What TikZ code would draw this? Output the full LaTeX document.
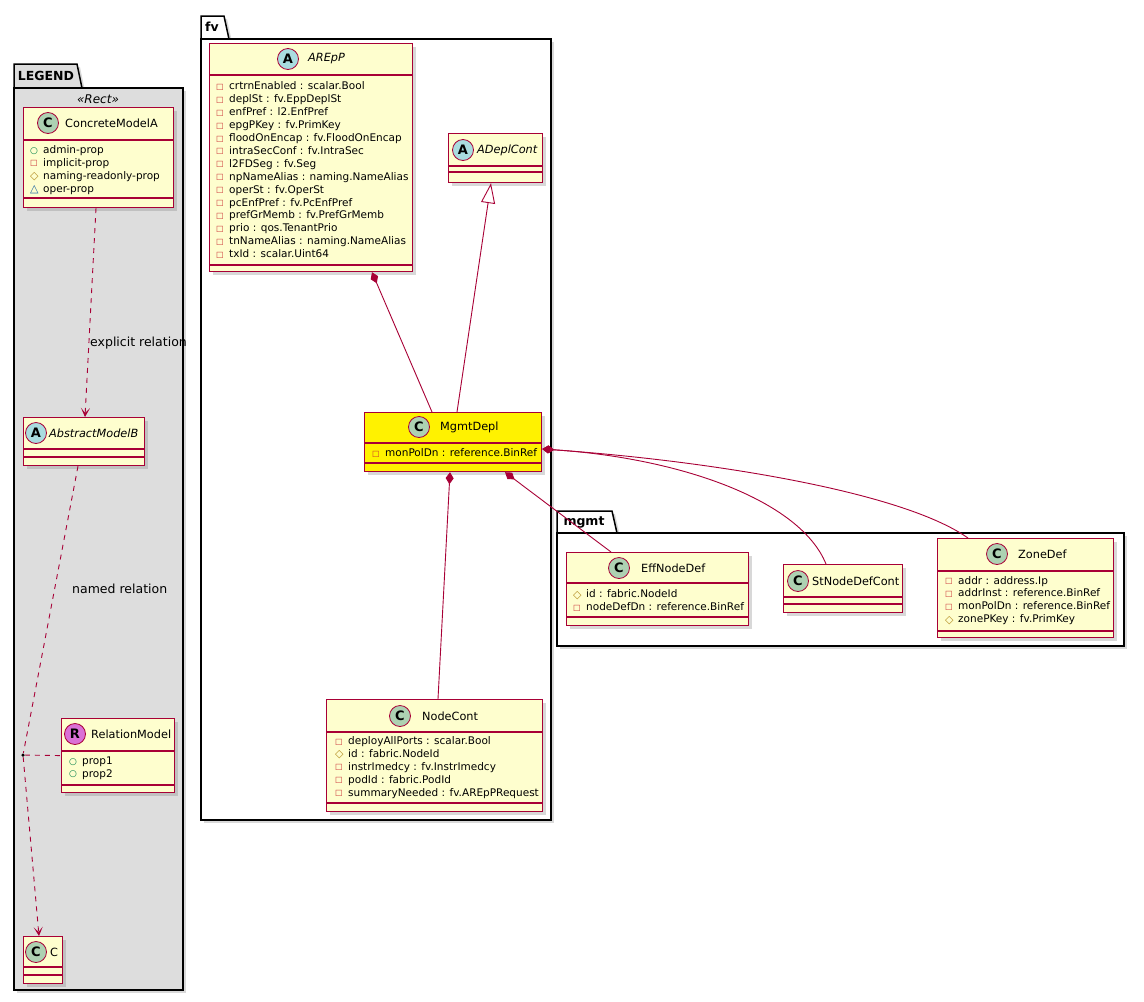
\documentclass[tikz,border=0pt]{standalone}
\usepackage{fontspec}
\setmainfont{DejaVu Sans}[ItalicFont={DejaVu Sans Oblique},BoldFont={DejaVu Sans Bold}]
\usetikzlibrary{arrows.meta,shadows,calc}

\definecolor{umlred}{HTML}{A80036}
\definecolor{umlfill}{HTML}{FEFECE}
\definecolor{cgreen}{HTML}{ADD1B2}
\definecolor{ablue}{HTML}{A9DCDF}
\definecolor{rpink}{HTML}{DA70D6}
\definecolor{legendgray}{HTML}{DDDDDD}
\definecolor{vpubc}{HTML}{038048}
\definecolor{vpric}{HTML}{C82930}
\definecolor{vproc}{HTML}{B38D22}
\definecolor{vpkgc}{HTML}{1963A0}

\newcommand{\vpub}{\makebox[13pt][l]{\raisebox{0.2pt}{\textcolor{vpubc}{\fontsize{9}{9}\selectfont ○}}}}
\newcommand{\vpri}{\makebox[13pt][l]{\raisebox{0.5pt}{\textcolor{vpric}{\fontsize{8}{8}\selectfont □}}}}
\newcommand{\vpro}{\makebox[13pt][l]{\raisebox{-0.3pt}{\textcolor{vproc}{\fontsize{11}{11}\selectfont ◇}}}}
\newcommand{\vpkg}{\makebox[13pt][l]{\raisebox{-0.3pt}{\textcolor{vpkgc}{\fontsize{11}{11}\selectfont △}}}}

\begin{document}
\begin{tikzpicture}[x=1pt,y=-1pt,
    cls/.style={draw=umlred, fill=umlfill, line width=1.2pt, inner sep=0, anchor=north west,
      drop shadow={shadow xshift=3pt, shadow yshift=-3pt, opacity=0.3}},
    clsline/.style={draw=umlred, line width=1.2pt},
    icon/.style={circle, draw=umlred, line width=0.8pt, minimum size=21pt, inner sep=0,
      font=\bfseries\fontsize{13}{13}\selectfont},
    clsname/.style={anchor=west, inner sep=0, font=\fontsize{11.3}{13}\selectfont},
    attrs/.style={anchor=west, inner sep=0, align=left, font=\fontsize{10.5}{12.9}\selectfont},
    pkg/.style={draw=black, line width=1.5pt,
      drop shadow={shadow xshift=3pt, shadow yshift=-3pt, opacity=0.3}},
    pkgname/.style={inner sep=0, font=\bfseries\fontsize{12.5}{14}\selectfont},
    lbl/.style={anchor=west, inner sep=0, font=\fontsize{12.5}{14}\selectfont},
    rel/.style={draw=umlred, line width=0.9pt},
    comp/.style={rel, {Diamond[length=12pt,width=8pt]}-},
    gen/.style={rel, -{Triangle[length=20pt,width=14pt,fill=white]}},
    deplink/.style={rel, dash pattern=on 5pt off 5pt},
    dep/.style={deplink, -{Stealth[length=9pt,width=9pt,inset=5pt]}}]
\useasboundingbox (0,0) rectangle (1144,1002);

% packages
\draw[pkg, fill=legendgray] (14,88) |- (77,64) -- (82,88);
\draw[pkg, fill=legendgray] (14,88) rectangle (183,990);
\node[pkgname] (legendname) at (46,76) {LEGEND};
\node[inner sep=0, font=\itshape\fontsize{12}{13}\selectfont] (legendst) at (98,99) {«Rect»};

\draw[pkg, fill=white] (201,39) |- (224,16) -- (229,39);
\draw[pkg, fill=white] (201,39) rectangle (551,820);
\node[pkgname] (fvname) at (212,27) {fv};

\draw[pkg, fill=white] (557,533) |- (612,511) -- (617,533);
\draw[pkg, fill=white] (557,533) rectangle (1124,646);
\node[pkgname] (mgmtname) at (584,522) {mgmt};

% legend classes
\node[cls, minimum width=150, minimum height=100] (cma) at (23,107) {};
\draw[clsline] (23,140) -- (173,140);
\draw[clsline] (23,198) -- (173,198);
\node[icon, fill=cgreen] (cmaicon) at (48,123) {C};
\node[clsname] (cmaname) at (65,123) {ConcreteModelA};
\node[attrs] (cmaattr) at (30,170) {\vpub admin-prop\\ \vpri implicit-prop\\ \vpro naming-readonly-prop\\ \vpkg oper-prop};

\node[cls, minimum width=121, minimum height=48] (amb) at (23,417) {};
\draw[clsline] (23,449) -- (144,449);
\draw[clsline] (23,457) -- (144,457);
\node[icon, fill=ablue] (ambicon) at (36,433) {A};
\node[clsname, font=\itshape\fontsize{11.3}{13}\selectfont] (ambname) at (49,433) {AbstractModelB};

\node[cls, minimum width=113, minimum height=74] (relm) at (61,718) {};
\draw[clsline] (61,751) -- (174,751);
\draw[clsline] (61,785) -- (174,785);
\node[icon, fill=rpink] (relmicon) at (75,734) {R};
\node[clsname] (relmname) at (91,734) {RelationModel};
\node[attrs] (relmattr) at (69,768) {\vpub prop1\\ \vpub prop2};

\node[cls, minimum width=39, minimum height=47] (cnode) at (23,936) {};
\draw[clsline] (23,967) -- (62,967);
\draw[clsline] (23,975) -- (62,975);
\node[icon, fill=cgreen] (cicon) at (36,952) {C};
\node[clsname] (cname) at (50,952) {C};

\node[circle, fill=black, inner sep=0, minimum size=3.5pt] (reldot) at (23,755) {};

% fv classes
\node[cls, minimum width=203, minimum height=228] (arepp) at (209,43) {};
\draw[clsline] (209,75) -- (412,75);
\draw[clsline] (209,265) -- (412,265);
\node[icon, fill=ablue] (areppicon) at (288,59) {A};
\node[clsname, font=\itshape\fontsize{11.3}{13}\selectfont] (areppname) at (308,59) {AREpP};
\node[attrs] (areppattr) at (216,170) {\vpri crtrnEnabled : scalar.Bool\\ \vpri deplSt : fv.EppDeplSt\\
  \vpri enfPref : l2.EnfPref\\ \vpri epgPKey : fv.PrimKey\\ \vpri floodOnEncap : fv.FloodOnEncap\\
  \vpri intraSecConf : fv.IntraSec\\ \vpri l2FDSeg : fv.Seg\\ \vpri npNameAlias : naming.NameAlias\\
  \vpri operSt : fv.OperSt\\ \vpri pcEnfPref : fv.PcEnfPref\\ \vpri prefGrMemb : fv.PrefGrMemb\\
  \vpri prio : qos.TenantPrio\\ \vpri tnNameAlias : naming.NameAlias\\ \vpri txId : scalar.Uint64};

\node[cls, minimum width=94, minimum height=49] (adc) at (448,133) {};
\draw[clsline] (448,166) -- (542,166);
\draw[clsline] (448,172) -- (542,172);
\node[icon, fill=ablue] (adcicon) at (463,150) {A};
\node[clsname, font=\itshape\fontsize{11.3}{13}\selectfont] (adcname) at (477,150) {ADeplCont};

\node[cls, fill=yellow, minimum width=177, minimum height=59] (mgmtdepl) at (364,412) {};
\draw[clsline] (364,443) -- (541,443);
\draw[clsline] (364,463) -- (541,463);
\node[icon, fill=cgreen] (mgmtdeplicon) at (419,427) {C};
\node[clsname] (mgmtdeplname) at (440,427) {MgmtDepl};
\node[attrs] (mgmtdeplattr) at (372,453) {\vpri monPolDn : reference.BinRef};

\node[cls, minimum width=216, minimum height=112] (nodecont) at (326,699) {};
\draw[clsline] (326,732) -- (542,732);
\draw[clsline] (326,803) -- (542,803);
\node[icon, fill=cgreen] (nodeconticon) at (400,716) {C};
\node[clsname] (nodecontname) at (422,716) {NodeCont};
\node[attrs] (nodecontattr) at (335,767.5) {\vpri deployAllPorts : scalar.Bool\\ \vpro id : fabric.NodeId\\
  \vpri instrImedcy : fv.InstrImedcy\\ \vpri podId : fabric.PodId\\ \vpri summaryNeeded : fv.AREpPRequest};

% mgmt classes
\node[cls, minimum width=182, minimum height=73] (effnd) at (566,552) {};
\draw[clsline] (566,583) -- (748,583);
\draw[clsline] (566,617) -- (748,617);
\node[icon, fill=cgreen] (effndicon) at (619,568) {C};
\node[clsname] (effndname) at (641,568) {EffNodeDef};
\node[attrs] (effndattr) at (573,600.5) {\vpro id : fabric.NodeId\\ \vpri nodeDefDn : reference.BinRef};

\node[cls, minimum width=119, minimum height=48] (stndc) at (783,564) {};
\draw[clsline] (783,597) -- (902,597);
\draw[clsline] (783,604) -- (902,604);
\node[icon, fill=cgreen] (stndcicon) at (798,581) {C};
\node[clsname] (stndcname) at (812,581) {StNodeDefCont};

\node[cls, minimum width=176, minimum height=99] (zonedef) at (937,538) {};
\draw[clsline] (937,571) -- (1113,571);
\draw[clsline] (937,631) -- (1113,631);
\node[icon, fill=cgreen] (zonedeficon) at (997,554) {C};
\node[clsname] (zonedefname) at (1018,554) {ZoneDef};
\node[attrs] (zonedefattr) at (945,600.5) {\vpri addr : address.Ip\\ \vpri addrInst : reference.BinRef\\
  \vpri monPolDn : reference.BinRef\\ \vpro zonePKey : fv.PrimKey};

% legend relations
\draw[dep] ($(cma.south west)+(73,0)$) -- ($(amb.north west)+(62,0)$);
\node[lbl] (explicitlbl) at (90,343) {explicit relation};
\draw[deplink] ($(amb.south west)+(55,0)$) -- (reldot);
\draw[dep] (reldot) -- ($(cnode.north west)+(16,0)$);
\draw[deplink] (reldot) -- (relm.west);
\node[lbl] (namedlbl) at (72,589) {named relation};

% fv relations
\draw[comp] ($(arepp.south west)+(163,0)$) -- ($(mgmtdepl.north west)+(68,0)$);
\draw[gen] ($(mgmtdepl.north west)+(93,0)$) -- ($(adc.south west)+(43,0)$);
\draw[comp] ($(mgmtdepl.south west)+(86,0)$) -- ($(nodecont.north west)+(112,0)$);
\draw[comp] ($(mgmtdepl.south west)+(141,0)$) -- ($(effnd.north west)+(45,0)$);
\draw[comp] ($(mgmtdepl.north east)+(0,37)$) .. controls (680,458) and (800,500) .. ($(stndc.north west)+(43,0)$);
\draw[comp] ($(mgmtdepl.north east)+(0,37)$) .. controls (700,460) and (900,490) .. ($(zonedef.north west)+(31,0)$);
\end{tikzpicture}
\end{document}
